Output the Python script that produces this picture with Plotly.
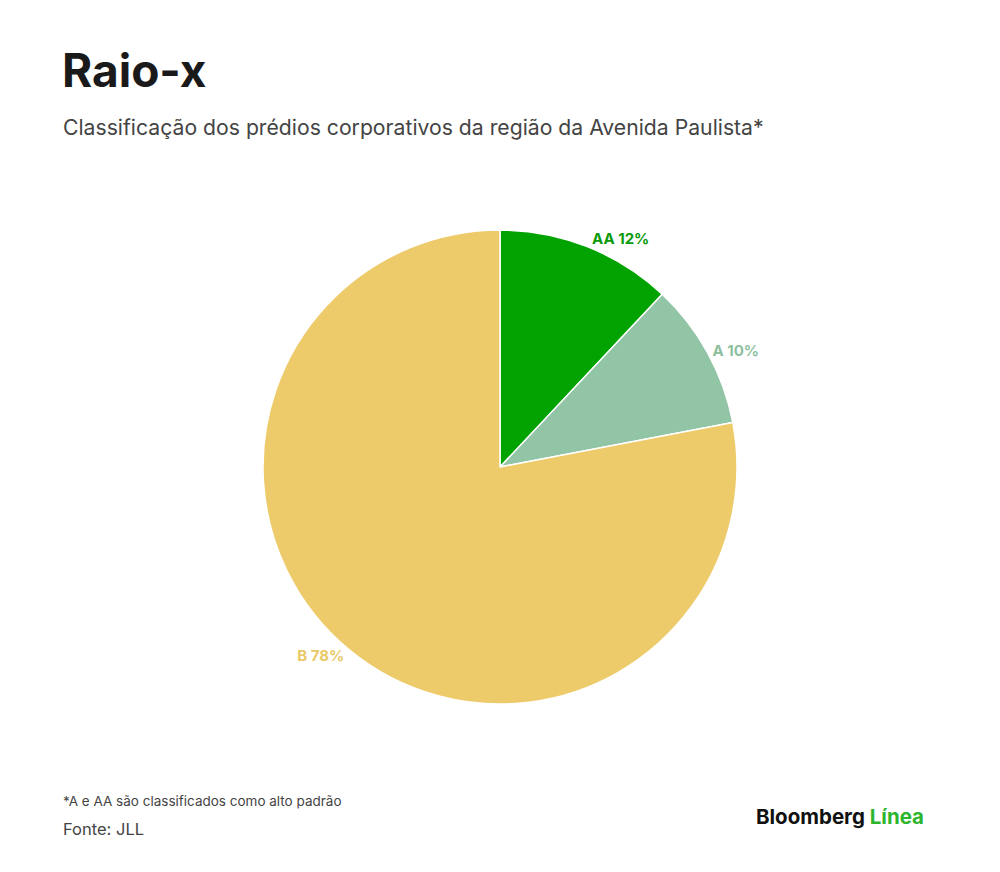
import plotly.graph_objects as go

labels = ["AA", "A", "B"]
values = [12, 10, 78]
colors = ["#00A300", "#92C4A6", "#EDCB6B"]
text_colors = ["#0A9A0A", "#8DBF9F", "#E9C866"]

title = "Raio-x"
subtitle = "Classificação dos prédios corporativos da região da Avenida Paulista*"
note = "*A e AA são classificados como alto padrão"
source = "Fonte: JLL"

W, H = 1000, 872
OFF = 8  # page body margin
cx, cy, r = 500 - OFF, 467 - OFF, 237

fig = go.Figure(go.Pie(
    labels=labels,
    values=values,
    sort=False,
    direction="clockwise",
    rotation=0,
    marker=dict(colors=colors, line=dict(color="white", width=1.5)),
    texttemplate="<b>%{label} %{value}%</b>",
    textposition="outside",
    textfont=dict(family="Inter, Roboto, sans-serif", size=15, color=text_colors),
    showlegend=False,
    hoverinfo="label+percent",
    domain=dict(x=[(cx - r) / W, (cx + r) / W], y=[1 - (cy + r) / H, 1 - (cy - r) / H]),
))

font = "Inter, Roboto, sans-serif"

def px(x):
    return (x - OFF) / W

def py(y):
    return 1 - (y - OFF) / H

fig.update_layout(
    width=W, height=H,
    margin=dict(l=0, r=0, t=0, b=0),
    paper_bgcolor="white", plot_bgcolor="white",
    annotations=[
        dict(text="<b>" + title + "</b>", x=px(60), y=py(70), xref="paper", yref="paper",
             xanchor="left", yanchor="middle", showarrow=False,
             font=dict(family=font, size=46, color="#1a1a1a")),
        dict(text=subtitle, x=px(61), y=py(127), xref="paper", yref="paper",
             xanchor="left", yanchor="middle", showarrow=False,
             font=dict(family=font, size=21.2, color="#444444")),
        dict(text=note, x=px(61), y=py(801), xref="paper", yref="paper",
             xanchor="left", yanchor="middle", showarrow=False,
             font=dict(family=font, size=13.5, color="#444444")),
        dict(text=source, x=px(61), y=py(829), xref="paper", yref="paper",
             xanchor="left", yanchor="middle", showarrow=False,
             font=dict(family=font, size=16.5, color="#444444")),
        dict(text="<b>Bloomberg <span style='color:#2DB52D'>Línea</span></b>",
             x=px(926), y=py(816), xref="paper", yref="paper",
             xanchor="right", yanchor="middle", showarrow=False,
             font=dict(family=font, size=20.5, color="#111111")),
    ],
)

fig.write_html("out.html")
